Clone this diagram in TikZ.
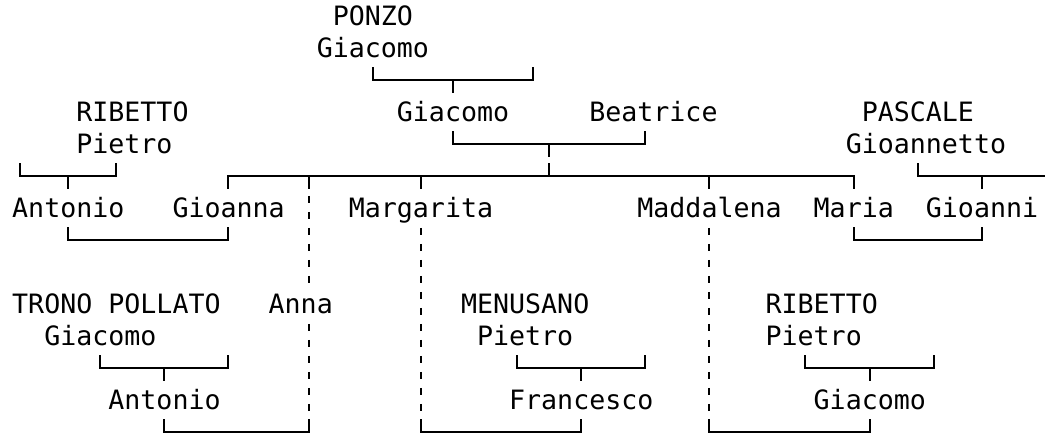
\documentclass[tikz,border=0pt]{standalone}
\usepackage{fontspec}
\setmonofont{DejaVu Sans Mono}
\newcommand\nm[4]{\node[txt] (#1) at ({#2-0.5},{#3+0.3}) {#4};}
\newcommand\couple[5]{%
  \coordinate (#1L) at (#3,#2);
  \coordinate (#1R) at (#4,#2);
  \coordinate (#1M) at (#5,#2);
  \draw[conn] (#1L) ++(0,-0.406) -- (#1L) -- (#1R) -- ++(0,-0.406);
  \draw[conn] (#1M) -- ++(0,0.406);}
\newcommand\marriage[4]{%
  \coordinate (#1L) at (#3,#2);
  \coordinate (#1R) at (#4,#2);
  \draw[conn] (#1L) ++(0,-0.406) -- (#1L) -- (#1R) -- ++(0,-0.406);}
\begin{document}
\begin{tikzpicture}[
  txt/.style={font=\ttfamily\fontsize{26.63}{32}\selectfont, inner sep=0pt, anchor=base west, text=black},
  conn/.style={line width=2pt, draw=black, line join=miter, line cap=butt},
  dash line/.style={conn, dash pattern=on 7.5pt off 8.5pt},
]
\useasboundingbox[fill=white] (0,0) rectangle (1045pt,-435pt);
\begin{scope}[x=16.03pt, y=-32pt, shift={(20.015pt,-16pt)}]
% names
\nm{ponzo}{20}{0}{PONZO}
\nm{giacomoP}{19}{1}{Giacomo}
\nm{ribettoA}{4}{3}{RIBETTO}
\nm{giacomo}{24}{3}{Giacomo}
\nm{beatrice}{36}{3}{Beatrice}
\nm{pascale}{53}{3}{PASCALE}
\nm{pietroA}{4}{4}{Pietro}
\nm{gioannetto}{52}{4}{Gioannetto}
\nm{antonioA}{0}{6}{Antonio}
\nm{gioanna}{10}{6}{Gioanna}
\nm{margarita}{21}{6}{Margarita}
\nm{maddalena}{39}{6}{Maddalena}
\nm{maria}{50}{6}{Maria}
\nm{gioanni}{57}{6}{Gioanni}
\nm{trono}{0}{9}{TRONO POLLATO}
\nm{anna}{16}{9}{Anna}
\nm{menusano}{28}{9}{MENUSANO}
\nm{ribettoB}{47}{9}{RIBETTO}
\nm{giacomoT}{2}{10}{Giacomo}
\nm{pietroM}{29}{10}{Pietro}
\nm{pietroB}{47}{10}{Pietro}
\nm{antonioB}{6}{12}{Antonio}
\nm{francesco}{31}{12}{Francesco}
\nm{giacomoB}{50}{12}{Giacomo}
% parent brackets
\couple{bA}{2}{22}{32}{27}
\couple{bB}{4}{27}{39}{33}
\couple{bC}{5}{0}{6}{3}
\couple{bD}{5}{56}{64}{60}
\couple{bE}{11}{5}{13}{9}
\couple{bF}{11}{31}{39}{35}
\couple{bG}{11}{49}{57}{53}
% marriages
\marriage{mA}{7}{3}{13}
\marriage{mB}{7}{52}{60}
\marriage{mC}{13}{9}{18}
\marriage{mD}{13}{25}{35}
\marriage{mE}{13}{43}{53}
% children line
\coordinate (k13) at (13,5);
\coordinate (k18) at (18,5);
\coordinate (k25) at (25,5);
\coordinate (k33) at (33,5);
\coordinate (k43) at (43,5);
\coordinate (k52) at (52,5);
\draw[conn] (k13) ++(0,0.406) -- (k13) -- (k52) -- ++(0,0.406);
\draw[conn] (k18) -- ++(0,0.406);
\draw[conn] (k25) -- ++(0,0.406);
\draw[conn] (k43) -- ++(0,0.406);
\draw[conn] (k33) -- ++(0,-0.406);
% dashed descents
\draw[dash line] (k18) ++(0,0.625) -- ++(0,2.719);
\draw[dash line] (mCR) ++(0,-3.375) -- ++(0,2.719);
\draw[dash line] (k25) ++(0,1.625) -- ++(0,5.719);
\draw[dash line] (k43) ++(0,1.625) -- ++(0,5.719);
\end{scope}
\end{tikzpicture}
\end{document}
